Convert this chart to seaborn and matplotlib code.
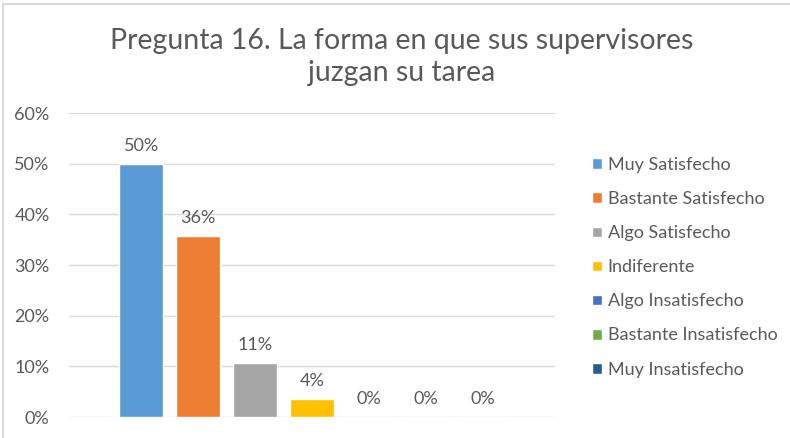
import matplotlib
matplotlib.use('Agg')
import matplotlib.pyplot as plt
import seaborn as sns
import pandas as pd
from matplotlib.patches import Rectangle

# datos (n = 28 respuestas)
respuestas = ['Muy Satisfecho', 'Bastante Satisfecho', 'Algo Satisfecho',
              'Indiferente', 'Algo Insatisfecho', 'Bastante Insatisfecho',
              'Muy Insatisfecho']
porcentajes = [0.50, 0.357, 0.107, 0.036, 0.0, 0.0, 0.0]
colores = ['#5B9BD5', '#ED7D31', '#A5A5A5', '#FFC000', '#4472C4',
           '#70AD47', '#255E91']
titulo = 'Pregunta 16. La forma en que sus supervisores\njuzgan su tarea'
yticks = [0, 0.1, 0.2, 0.3, 0.4, 0.5, 0.6]

df = pd.DataFrame({'grupo': ['P16'] * len(respuestas),
                   'respuesta': respuestas,
                   'valor': porcentajes})

sns.set_theme(style='white')
plt.rcParams['font.family'] = ['Lato', 'DejaVu Sans']

fig = plt.figure(figsize=(7.9, 4.38), dpi=100)
ax = fig.add_axes([69 / 790, 21 / 438, 486 / 790, 304 / 438])

sns.barplot(data=df, x='grupo', y='valor', hue='respuesta',
            hue_order=respuestas, palette=colores, width=0.82, gap=0.23,
            saturation=1, ax=ax)

for cont in ax.containers:
    ax.bar_label(cont, labels=[f'{v:.0%}' for v in cont.datavalues],
                 padding=7, fontsize=13, color='#595959')

ax.set_ylim(0, 0.6)
ax.set_xlim(-0.5, 0.5)
ax.set_yticks(yticks)
ax.set_yticklabels([f'{t:.0%}' for t in yticks], fontsize=13, color='#595959')
ax.tick_params(axis='y', length=0, pad=14)
ax.set_xticks([])
ax.set_xlabel('')
ax.set_ylabel('')
ax.yaxis.grid(True, color='#D9D9D9', linewidth=1)
ax.set_axisbelow(True)
for s in ax.spines.values():
    s.set_visible(False)

handles, labels = ax.get_legend_handles_labels()
ax.legend(handles, labels, loc='upper left', bbox_to_anchor=(585 / 790, 1 - 150 / 438),
          bbox_transform=fig.transFigure, frameon=False, fontsize=13,
          labelcolor='#595959', handlelength=0.55, handleheight=0.55,
          handletextpad=0.3, labelspacing=1.0, borderaxespad=0)

fig.suptitle(titulo, x=0.509, y=1 - 28 / 438, va='top', fontsize=20.5,
             color='#595959', linespacing=1.27)

# borde del area del grafico (solo izquierda y arriba visibles)
fig.patches.append(Rectangle((2.5 / 790, -0.1), 1.2, 1.1 - 3.5 / 438,
                             transform=fig.transFigure, fill=False,
                             edgecolor='#D9D9D9', linewidth=1.5))

fig.savefig('out.png', dpi=100)
